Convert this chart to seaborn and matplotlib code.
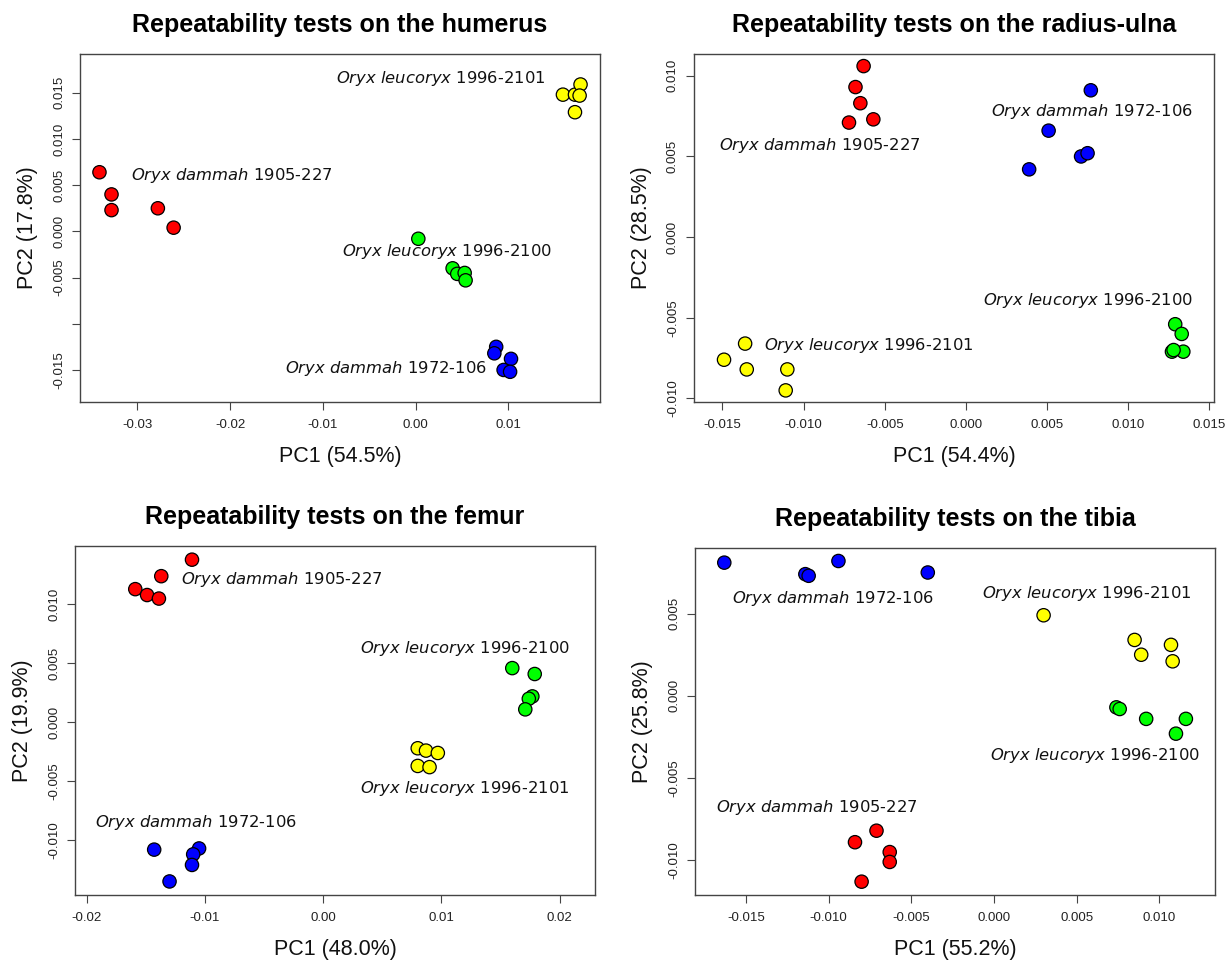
import numpy as np
import pandas as pd
import matplotlib
matplotlib.use("Agg")
import matplotlib.pyplot as plt
import seaborn as sns

# ---------------- data ----------------
GROUPS = ["Oryx dammah 1905-227", "Oryx dammah 1972-106",
          "Oryx leucoryx 1996-2100", "Oryx leucoryx 1996-2101"]
COLORS = ["#FF0000", "#0000FF", "#00FF00", "#FFFF00"]
BONES = ["humerus", "radius-ulna", "femur", "tibia"]
PC1_VAR = ["54.5%", "54.4%", "48.0%", "55.2%"]
PC2_VAR = ["17.8%", "28.5%", "19.9%", "25.8%"]

# humerus
HUM_PC1_D1905 = [-0.0341, -0.0328, -0.0328, -0.0278, -0.0261]
HUM_PC2_D1905 = [0.0064, 0.0040, 0.0023, 0.0025, 0.0004]
HUM_PC1_D1972 = [0.0087, 0.0085, 0.0103, 0.0095, 0.0102]
HUM_PC2_D1972 = [-0.0125, -0.0132, -0.0138, -0.0150, -0.0152]
HUM_PC1_L2100 = [0.0003, 0.0040, 0.0045, 0.0053, 0.0054]
HUM_PC2_L2100 = [-0.0008, -0.0040, -0.0046, -0.0045, -0.0053]
HUM_PC1_L2101 = [0.0159, 0.0172, 0.0178, 0.0177, 0.0172]
HUM_PC2_L2101 = [0.0148, 0.0148, 0.0159, 0.0147, 0.0129]
HUM_LABEL_X = [-0.0198, -0.0032, 0.0034, 0.0027]
HUM_LABEL_Y = [0.0060, -0.0148, -0.0022, 0.0166]

# radius-ulna
RAD_PC1_D1905 = [-0.0063, -0.0068, -0.0065, -0.0072, -0.0057]
RAD_PC2_D1905 = [0.0106, 0.0093, 0.0083, 0.0071, 0.0073]
RAD_PC1_D1972 = [0.0077, 0.0051, 0.0039, 0.0071, 0.0075]
RAD_PC2_D1972 = [0.0091, 0.0066, 0.0042, 0.0050, 0.0052]
RAD_PC1_L2100 = [0.0129, 0.0133, 0.0127, 0.0134, 0.0128]
RAD_PC2_L2100 = [-0.0054, -0.0060, -0.0071, -0.0071, -0.0070]
RAD_PC1_L2101 = [-0.0149, -0.0136, -0.0135, -0.0110, -0.0111]
RAD_PC2_L2101 = [-0.0076, -0.0066, -0.0082, -0.0082, -0.0095]
RAD_LABEL_X = [-0.0090, 0.0078, 0.0075, -0.0060]
RAD_LABEL_Y = [0.0057, 0.0078, -0.0039, -0.0067]

# femur
FEM_PC1_D1905 = [-0.0111, -0.0137, -0.0159, -0.0149, -0.0139]
FEM_PC2_D1905 = [0.0138, 0.0124, 0.0113, 0.0108, 0.0105]
FEM_PC1_D1972 = [-0.0143, -0.0105, -0.0110, -0.0111, -0.0130]
FEM_PC2_D1972 = [-0.0108, -0.0107, -0.0112, -0.0121, -0.0135]
FEM_PC1_L2100 = [0.0160, 0.0179, 0.0177, 0.0174, 0.0171]
FEM_PC2_L2100 = [0.0046, 0.0041, 0.0022, 0.0020, 0.0011]
FEM_PC1_L2101 = [0.0080, 0.0087, 0.0097, 0.0080, 0.0090]
FEM_PC2_L2101 = [-0.0022, -0.0024, -0.0026, -0.0037, -0.0038]
FEM_LABEL_X = [-0.0035, -0.0108, 0.0120, 0.0120]
FEM_LABEL_Y = [0.0121, -0.0085, 0.0063, -0.0056]

# tibia
TIB_PC1_D1905 = [-0.0071, -0.0084, -0.0063, -0.0063, -0.0080]
TIB_PC2_D1905 = [-0.0082, -0.0089, -0.0095, -0.0101, -0.0113]
TIB_PC1_D1972 = [-0.0163, -0.0114, -0.0112, -0.0094, -0.0040]
TIB_PC2_D1972 = [0.0081, 0.0074, 0.0073, 0.0082, 0.0075]
TIB_PC1_L2100 = [0.0074, 0.0076, 0.0092, 0.0116, 0.0110]
TIB_PC2_L2100 = [-0.0007, -0.0008, -0.0014, -0.0014, -0.0023]
TIB_PC1_L2101 = [0.0030, 0.0085, 0.0089, 0.0107, 0.0108]
TIB_PC2_L2101 = [0.0049, 0.0034, 0.0025, 0.0031, 0.0021]
TIB_LABEL_X = [-0.0107, -0.0097, 0.0061, 0.0056]
TIB_LABEL_Y = [-0.0068, 0.0059, -0.0036, 0.0062]

# tick values and labels
HUM_XTICKS = [-0.03, -0.02, -0.01, 0.00, 0.01]
HUM_XTICKLABELS = ["-0.03", "-0.02", "-0.01", "0.00", "0.01"]
HUM_YTICKS = [-0.015, -0.010, -0.005, 0.000, 0.005, 0.010, 0.015]
HUM_YTICKLABELS = ["-0.015", "", "-0.005", "0.000", "0.005", "0.010", "0.015"]
RAD_XTICKS = [-0.015, -0.010, -0.005, 0.000, 0.005, 0.010, 0.015]
RAD_XTICKLABELS = ["-0.015", "-0.010", "-0.005", "0.000", "0.005", "0.010", "0.015"]
RAD_YTICKS = [-0.010, -0.005, 0.000, 0.005, 0.010]
RAD_YTICKLABELS = ["-0.010", "-0.005", "0.000", "0.005", "0.010"]
FEM_XTICKS = [-0.02, -0.01, 0.00, 0.01, 0.02]
FEM_XTICKLABELS = ["-0.02", "-0.01", "0.00", "0.01", "0.02"]
FEM_YTICKS = [-0.010, -0.005, 0.000, 0.005, 0.010]
FEM_YTICKLABELS = ["-0.010", "-0.005", "0.000", "0.005", "0.010"]
TIB_XTICKS = [-0.015, -0.010, -0.005, 0.000, 0.005, 0.010]
TIB_XTICKLABELS = ["-0.015", "-0.010", "-0.005", "0.000", "0.005", "0.010"]
TIB_YTICKS = [-0.010, -0.005, 0.000, 0.005]
TIB_YTICKLABELS = ["-0.010", "-0.005", "0.000", "0.005"]

# ---------------- style ----------------
sns.set_theme(style="white")
plt.rcParams["font.family"] = ["Liberation Sans", "DejaVu Sans"]
plt.rcParams["mathtext.fontset"] = "dejavusans"

fig = plt.figure(figsize=(12.3, 9.65), dpi=100)
W, H = 1230.0, 965.0
# axes boxes in pixels: left, top, right, bottom
BOXES = [(80, 54, 600, 402), (694, 54, 1214, 402),
         (75, 546, 595, 895), (695, 548, 1215, 895)]
XLIMS = [(-0.0362, 0.0199), (-0.01675, 0.01529), (-0.0210, 0.0230), (-0.01807, 0.01336)]
YLIMS = [(-0.01847, 0.0192), (-0.01022, 0.01135), (-0.01465, 0.01496), (-0.01211, 0.00899)]

panels = [
    (HUM_PC1_D1905, HUM_PC2_D1905, HUM_PC1_D1972, HUM_PC2_D1972, HUM_PC1_L2100, HUM_PC2_L2100,
     HUM_PC1_L2101, HUM_PC2_L2101, HUM_LABEL_X, HUM_LABEL_Y,
     HUM_XTICKS, HUM_XTICKLABELS, HUM_YTICKS, HUM_YTICKLABELS),
    (RAD_PC1_D1905, RAD_PC2_D1905, RAD_PC1_D1972, RAD_PC2_D1972, RAD_PC1_L2100, RAD_PC2_L2100,
     RAD_PC1_L2101, RAD_PC2_L2101, RAD_LABEL_X, RAD_LABEL_Y,
     RAD_XTICKS, RAD_XTICKLABELS, RAD_YTICKS, RAD_YTICKLABELS),
    (FEM_PC1_D1905, FEM_PC2_D1905, FEM_PC1_D1972, FEM_PC2_D1972, FEM_PC1_L2100, FEM_PC2_L2100,
     FEM_PC1_L2101, FEM_PC2_L2101, FEM_LABEL_X, FEM_LABEL_Y,
     FEM_XTICKS, FEM_XTICKLABELS, FEM_YTICKS, FEM_YTICKLABELS),
    (TIB_PC1_D1905, TIB_PC2_D1905, TIB_PC1_D1972, TIB_PC2_D1972, TIB_PC1_L2100, TIB_PC2_L2100,
     TIB_PC1_L2101, TIB_PC2_L2101, TIB_LABEL_X, TIB_LABEL_Y,
     TIB_XTICKS, TIB_XTICKLABELS, TIB_YTICKS, TIB_YTICKLABELS),
]

palette = dict(zip(GROUPS, COLORS))
tick_font = dict(family="Liberation Sans", size=9.5)

for i, p in enumerate(panels):
    (x1, y1, x2, y2, x3, y3, x4, y4, lx, ly, xt, xtl, yt, ytl) = p
    l, t, r, b = BOXES[i]
    ax = fig.add_axes([l / W, 1 - b / H, (r - l) / W, (b - t) / H])
    df = pd.DataFrame({
        "PC1": list(x1) + list(x2) + list(x3) + list(x4),
        "PC2": list(y1) + list(y2) + list(y3) + list(y4),
        "group": [GROUPS[0]] * len(x1) + [GROUPS[1]] * len(x2)
                 + [GROUPS[2]] * len(x3) + [GROUPS[3]] * len(x4),
    })
    sns.scatterplot(data=df, x="PC1", y="PC2", hue="group", hue_order=GROUPS,
                    palette=palette, s=92, edgecolor="black", linewidth=0.9,
                    legend=False, ax=ax, zorder=3)
    ax.set_xlim(*XLIMS[i])
    ax.set_ylim(*YLIMS[i])
    ax.set_xticks(xt)
    ax.set_xticklabels(xtl, fontdict=tick_font)
    ax.set_yticks(yt)
    ax.set_yticklabels(ytl, fontdict=tick_font, rotation=90, va="center")
    ax.tick_params(axis="both", which="major", direction="out", length=5.8,
                   width=0.8, color="#444444", labelcolor="#222222",
                   bottom=True, left=True, top=False, right=False)
    ax.tick_params(axis="x", pad=6.5)
    ax.tick_params(axis="y", pad=5)
    for sp in ax.spines.values():
        sp.set_color("#444444")
        sp.set_linewidth(1.0)
        sp.set_visible(True)
    ax.set_xlabel(f"PC1 ({PC1_VAR[i]})", fontsize=15.5, family="Liberation Sans",
                  labelpad=11, color="#111111")
    ax.set_ylabel(f"PC2 ({PC2_VAR[i]})", fontsize=15.5, family="Liberation Sans",
                  labelpad=11, color="#111111")
    ax.set_title(f"Repeatability tests on the {BONES[i]}", fontsize=18,
                 fontweight="bold", family="Liberation Sans", pad=16, color="black")
    for g, tx, ty in zip(GROUPS, lx, ly):
        genus, species, code = g.split(" ")
        label = r"$\mathit{" + genus + r"\ " + species + "}$ " + code
        ax.text(tx, ty, label, ha="center", va="center", fontsize=11.8,
                family="DejaVu Sans", color="#111111", zorder=4)

fig.savefig("out.png", dpi=100)
